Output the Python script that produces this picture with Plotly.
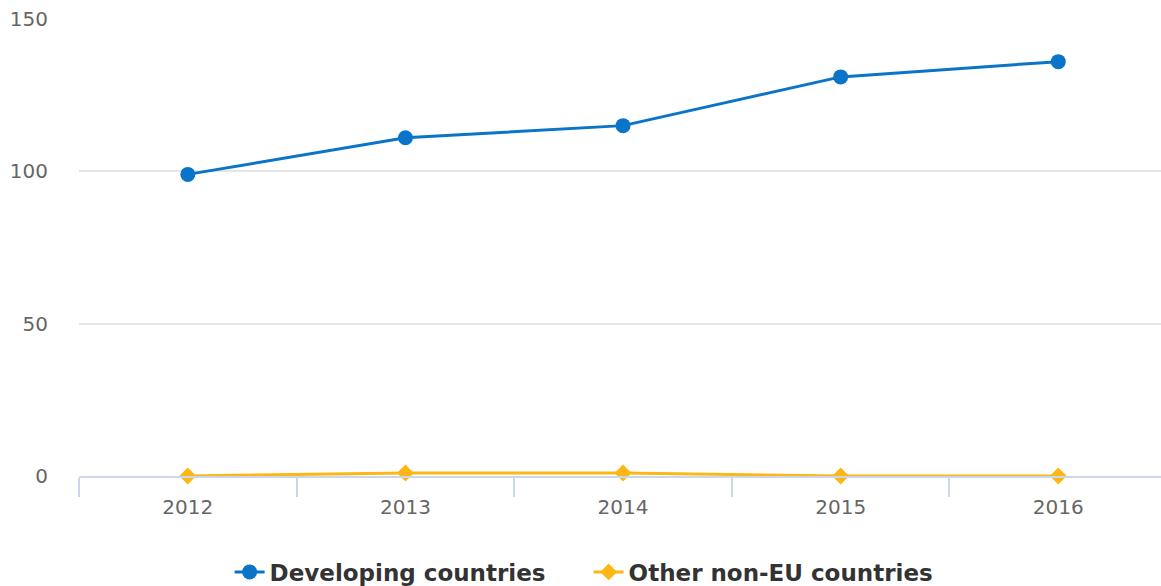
import plotly.graph_objects as go

years = ["2012", "2013", "2014", "2015", "2016"]
developing = [99, 111, 115, 131, 136]
other_non_eu = [0, 1, 1, 0, 0]
y_ticks = [0, 50, 100, 150]

BLUE = "#0a75c8"
ORANGE = "#fdb714"
FONT = "DejaVu Sans"

fig = go.Figure()
fig.add_trace(go.Scatter(
    x=years, y=developing, name="Developing countries",
    mode="lines+markers",
    line=dict(color=BLUE, width=3),
    marker=dict(color=BLUE, size=15, symbol="circle"),
    cliponaxis=False,
))
fig.add_trace(go.Scatter(
    x=years, y=other_non_eu, name="Other non-EU countries",
    mode="lines+markers",
    line=dict(color=ORANGE, width=3),
    marker=dict(color=ORANGE, size=13, symbol="diamond"),
    cliponaxis=False,
))

fig.update_layout(
    width=1161, height=586,
    margin=dict(l=79, r=0, t=19, b=109.5, autoexpand=False),
    paper_bgcolor="white", plot_bgcolor="white",
    showlegend=True,
    legend=dict(
        orientation="h", x=0.471, xanchor="center",
        yref="container", y=0.024, yanchor="middle",
        font=dict(family=FONT, size=23, color="#333333", weight="bold"),
        itemwidth=30, entrywidth=314, entrywidthmode="pixels",
    ),
    xaxis=dict(
        type="category", range=[-0.5, 4.472],
        tickson="boundaries", ticks="outside", ticklen=19, tickwidth=2,
        tickcolor="#ccd6eb", showline=True, linecolor="#ccd6eb", linewidth=2,
        showgrid=False, zeroline=False,
        tickfont=dict(family=FONT, size=20, color="#666666"),
        ticklabelstandoff=12,
    ),
    yaxis=dict(
        range=[0, 150], tickvals=y_ticks, ticktext=[str(v) for v in y_ticks],
        showgrid=True, gridcolor="#e6e6e6", gridwidth=2,
        zeroline=False, showline=False, ticks="",
        tickfont=dict(family=FONT, size=20, color="#666666"),
        ticklabelstandoff=30,
    ),
)

fig.write_html("out.html")
